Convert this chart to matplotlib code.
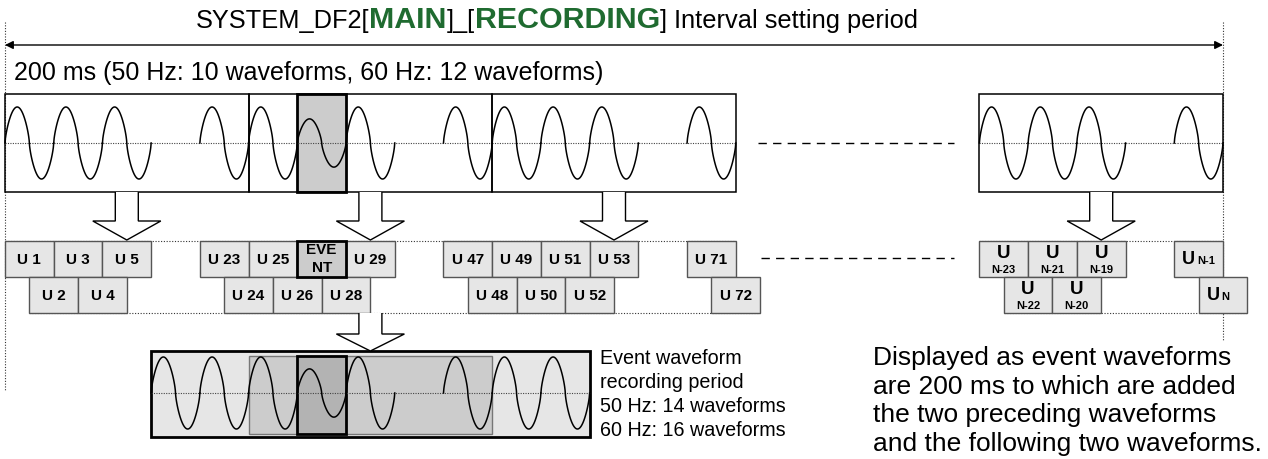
import numpy as np
import matplotlib
matplotlib.use('Agg')
import matplotlib.pyplot as plt
from matplotlib.patches import Rectangle, Polygon
from matplotlib import font_manager

# ---- diagram content ----
title_parts = ['SYSTEM_DF2[', 'MAIN', ']_[', 'RECORDING', '] Interval setting period']
title_bold = [False, True, False, True, False]
period_text = '200 ms (50 Hz: 10 waveforms, 60 Hz: 12 waveforms)'

# 200 ms blocks: first slot of each block, and per slot 1 = wave, 0 = skipped, 2 = event wave
block_slots = [0, 5, 10, 20]
block_waves = [[1, 1, 1, 0, 1], [1, 2, 1, 0, 1], [1, 1, 1, 0, 1], [1, 1, 1, 0, 1]]
event_slot = 6

row1_labels = ['U 1', 'U 3', 'U 5', 'U 23', 'U 25', 'EVENT', 'U 29', 'U 47', 'U 49', 'U 51',
               'U 53', 'U 71', 'N-23', 'N-21', 'N-19', 'N-1']
row1_slots = [0, 1, 2, 4, 5, 6, 7, 9, 10, 11, 12, 14, 20, 21, 22, 24]
row2_labels = ['U 2', 'U 4', 'U 24', 'U 26', 'U 28', 'U 48', 'U 50', 'U 52', 'U 72', 'N-22', 'N-20', 'N']
row2_slots = [0.5, 1.5, 4.5, 5.5, 6.5, 9.5, 10.5, 11.5, 14.5, 20.5, 21.5, 24.5]
inline_subs = ['N-1', 'N']

rec_slot = 3
rec_waves = [1, 1, 1, 2, 1, 0, 1, 1, 1]
rec_lines = ['Event waveform', 'recording period', '50 Hz: 14 waveforms', '60 Hz: 16 waveforms']
note_lines = ['Displayed as event waveforms', 'are 200 ms to which are added',
              'the two preceding waveforms', 'and the following two waveforms.']

# ---- layout ----
W, H = 1268, 459
P = 48.72      # one waveform width (px)
X0 = 5
GREEN = '#1f6b30'
LIGHT = '#e6e6e6'
MID = '#cccccc'
DARK = '#b3b3b3'

names = {f.name for f in font_manager.fontManager.ttflist}
NARROW = 'Liberation Sans Narrow' if 'Liberation Sans Narrow' in names else 'Liberation Sans'
SANS = 'Liberation Sans'
# the reference uses a condensed face; without it, let the text run a little wider
GROW = 1.0 if NARROW == 'Liberation Sans Narrow' else 1.04


def sx(s):
    return X0 + s * P


fig = plt.figure(figsize=(W / 100, H / 100), dpi=100)
ax = fig.add_axes([0, 0, 1, 1])
ax.set_xlim(0, W)
ax.set_ylim(H, 0)
ax.axis('off')
renderer = fig.canvas.get_renderer()


def width_of(t):
    return t.get_window_extent(renderer=renderer).width


def draw_waves(slot0, kinds, yc, amp):
    t = np.linspace(0, 1, 120)
    s = np.sin(2 * np.pi * t)
    shape = np.sign(s) * np.abs(s) ** 0.7
    for i, k in enumerate(kinds):
        if k == 0:
            continue
        a = amp if k == 1 else amp * 0.67
        ax.plot(sx(slot0 + i + t), yc - a * shape, color='k', lw=1.1, zorder=5)
    ax.plot([sx(slot0), sx(slot0 + len(kinds))], [yc, yc], color='#444', lw=0.8,
            ls=(0, (1, 1.2)), zorder=4)


def block_arrow(cx, y0, ys, ytip):
    pts = [(cx - 11.5, y0), (cx - 11.5, ys), (cx - 34, ys), (cx, ytip),
           (cx + 34, ys), (cx + 11.5, ys), (cx + 11.5, y0)]
    ax.add_patch(Polygon(pts, closed=False, fc='white', ec='k', lw=1, zorder=6))


# ---- interval arrow and guides ----
ax.plot([sx(0), sx(0)], [22, 390], color='#333', lw=0.8, ls=(0, (1, 1.5)))
ax.plot([sx(25), sx(25)], [22, 340], color='#333', lw=0.8, ls=(0, (1, 1.5)))
ax.annotate('', xy=(sx(0), 45), xytext=(sx(25), 45),
            arrowprops=dict(arrowstyle='<|-|>', color='k', lw=1, mutation_scale=12,
                            shrinkA=0, shrinkB=0))

# ---- title ----
parts = []
for s, b in zip(title_parts, title_bold):
    if b:
        t = ax.text(0, 28, s, fontsize=18, fontweight='bold', color=GREEN, family=NARROW, va='baseline')
    else:
        t = ax.text(0, 28, s, fontsize=15, color='k', family=NARROW, va='baseline')
    parts.append(t)
k = 694 / sum(width_of(t) for t in parts) * GROW
for t in parts:
    t.set_fontsize(t.get_fontsize() * k)
total = sum(width_of(t) for t in parts)
x = 557 - total / 2
for t in parts:
    t.set_x(x)
    x += width_of(t)

t = ax.text(14, 80, period_text, fontsize=15, family=NARROW, va='baseline')
t.set_fontsize(15 * 569 / width_of(t) * GROW)

# ---- top waveform blocks ----
ax.add_patch(Rectangle((sx(event_slot), 94), P, 98, fc=MID, ec='k', lw=2, zorder=3))
for s0, kinds in zip(block_slots, block_waves):
    ax.add_patch(Rectangle((sx(s0), 94), 5 * P, 98, fill=False, ec='k', lw=1.1, zorder=4))
    draw_waves(s0, kinds, 143, 36)
    block_arrow(sx(s0 + 2.5), 192, 221, 240)

ax.plot([sx(15) + 22, sx(20) - 25], [143, 143], color='k', lw=1, ls=(0, (6, 4.5)))
ax.plot([sx(15.5) + 1, sx(20) - 25], [258, 258], color='k', lw=1, ls=(0, (6, 4.5)))

# ---- sample rows ----
ax.plot([sx(0), sx(15)], [241, 241], color='#333', lw=0.8, ls=(0, (1, 1.5)))
ax.plot([sx(20), sx(25)], [241, 241], color='#333', lw=0.8, ls=(0, (1, 1.5)))
ax.plot([sx(0.5), sx(15.5)], [313, 313], color='#333', lw=0.8, ls=(0, (1, 1.5)))
ax.plot([sx(20.5), sx(25.5)], [313, 313], color='#333', lw=0.8, ls=(0, (1, 1.5)))


def sample_box(lab, slot, ytop):
    x0 = sx(slot)
    cx = x0 + P / 2
    if lab == 'EVENT':
        ax.add_patch(Rectangle((x0, ytop), P, 36, fc=MID, ec='k', lw=2, zorder=3))
        ax.text(cx, ytop + 13, 'EVE', ha='center', va='baseline', fontsize=11,
                fontweight='bold', family=SANS, zorder=7)
        ax.text(cx, ytop + 31, 'NT', ha='center', va='baseline', fontsize=11,
                fontweight='bold', family=SANS, zorder=7)
        return
    ax.add_patch(Rectangle((x0, ytop), P, 36, fc=LIGHT, ec='#555', lw=1, zorder=2))
    if lab in inline_subs:
        ax.text(x0 + 8, ytop + 23, 'U', ha='left', va='baseline', fontsize=13,
                fontweight='bold', family=SANS, zorder=7)
        ax.text(x0 + 23, ytop + 23, lab, ha='left', va='baseline', fontsize=8,
                fontweight='bold', family=SANS, zorder=7)
    elif lab.startswith('N'):
        ax.text(cx, ytop + 17, 'U', ha='center', va='baseline', fontsize=13.5,
                fontweight='bold', family=SANS, zorder=7)
        ax.text(cx, ytop + 32, lab, ha='center', va='baseline', fontsize=8,
                fontweight='bold', family=SANS, zorder=7)
    else:
        ax.text(cx, ytop + 23.5, lab, ha='center', va='baseline', fontsize=11,
                fontweight='bold', family=SANS, zorder=7)


for lab, s in zip(row1_labels, row1_slots):
    sample_box(lab, s, 241)
for lab, s in zip(row2_labels, row2_slots):
    sample_box(lab, s, 277)

# ---- event waveform recording period ----
block_arrow(sx(7.5), 313, 334, 351)
ax.add_patch(Rectangle((sx(rec_slot), 351), len(rec_waves) * P, 86, fc=LIGHT, ec='k', lw=2, zorder=1))
ax.add_patch(Rectangle((sx(5), 356), 5 * P, 78, fc=MID, ec='#777', lw=1, zorder=2))
ax.add_patch(Rectangle((sx(event_slot), 356), P, 78, fc=DARK, ec='k', lw=2, zorder=3))
draw_waves(rec_slot, rec_waves, 393, 36)

ts = [ax.text(600, 364 + 24 * i, s, fontsize=13, family=NARROW, va='baseline')
      for i, s in enumerate(rec_lines)]
k = 165 / width_of(ts[2]) * GROW * 1.08
for t in ts:
    t.set_fontsize(13 * k)

ts = [ax.text(873, 365 + 28.5 * i, s, fontsize=19, family=SANS, va='baseline')
      for i, s in enumerate(note_lines)]
k = 359 / width_of(ts[0])
for t in ts:
    t.set_fontsize(19 * k)

fig.savefig('out.png', dpi=100)
